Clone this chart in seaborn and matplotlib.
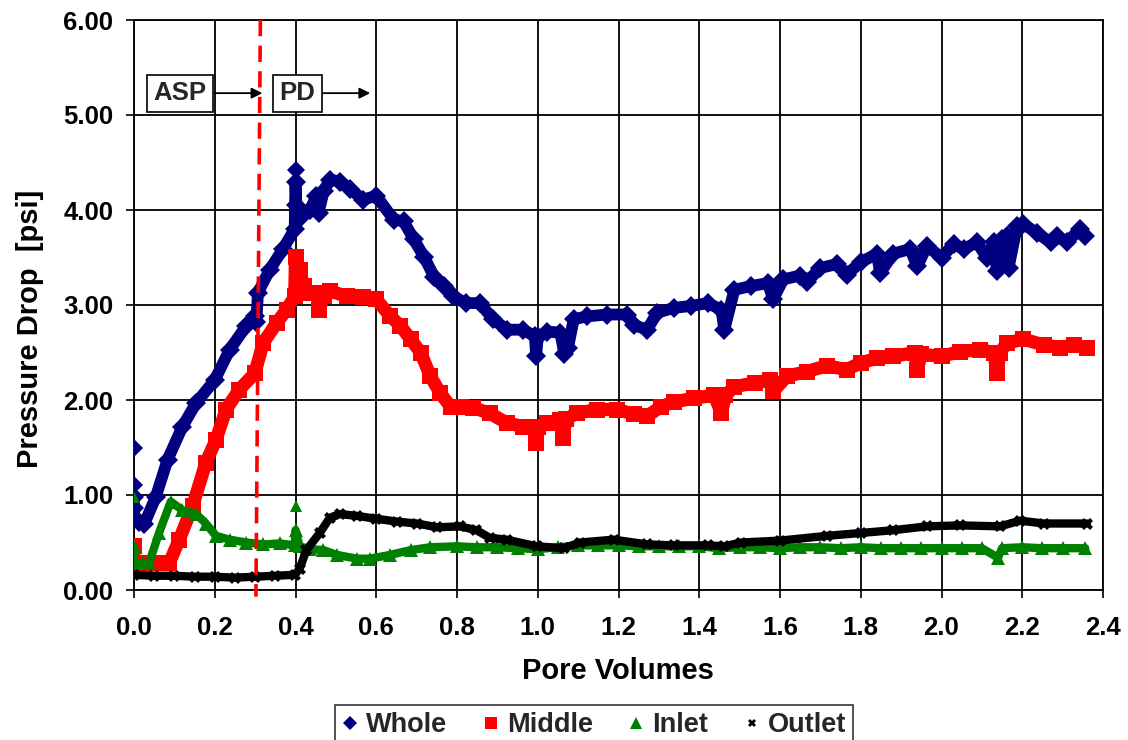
import matplotlib
matplotlib.use("Agg")
import matplotlib.pyplot as plt
from matplotlib.lines import Line2D
import pandas as pd
import seaborn as sns

# Pressure drop [psi] versus injected pore volumes for the four taps
whole = [
    (0.000, 0.98), (0.000, 0.86), (0.000, 0.76), (0.012, 0.72), (0.025, 0.69),
    (0.054, 0.98), (0.083, 1.37), (0.120, 1.72), (0.154, 1.97), (0.200, 2.21),
    (0.237, 2.53), (0.278, 2.78), (0.300, 2.88), (0.303, 2.82), (0.307, 3.13),
    (0.336, 3.37), (0.369, 3.59), (0.398, 3.80), (0.400, 4.30), (0.402, 4.05),
    (0.410, 3.92), (0.436, 4.00), (0.452, 4.15), (0.457, 3.97), (0.470, 4.20),
    (0.485, 4.32), (0.510, 4.30), (0.535, 4.22), (0.568, 4.11), (0.600, 4.15),
    (0.643, 3.90), (0.668, 3.88), (0.693, 3.69), (0.718, 3.51), (0.743, 3.30),
    (0.768, 3.20), (0.790, 3.09), (0.823, 3.02), (0.856, 3.02), (0.890, 2.85),
    (0.923, 2.74), (0.964, 2.74), (0.993, 2.67), (0.996, 2.46), (1.000, 2.66),
    (1.022, 2.72), (1.056, 2.71), (1.066, 2.48), (1.075, 2.55), (1.089, 2.85),
    (1.122, 2.88), (1.172, 2.90), (1.222, 2.90), (1.238, 2.79), (1.271, 2.74),
    (1.296, 2.92), (1.338, 2.97), (1.379, 2.99), (1.421, 3.02), (1.455, 2.95),
    (1.462, 2.74), (1.487, 3.16), (1.529, 3.20), (1.570, 3.23), (1.583, 3.06),
    (1.608, 3.27), (1.650, 3.31), (1.666, 3.24), (1.700, 3.39), (1.740, 3.43),
    (1.765, 3.32), (1.800, 3.45), (1.840, 3.54), (1.848, 3.34), (1.881, 3.54),
    (1.922, 3.59), (1.940, 3.41), (1.964, 3.62), (2.000, 3.50), (2.030, 3.64),
    (2.055, 3.59), (2.088, 3.66), (2.112, 3.50), (2.130, 3.66), (2.137, 3.36),
    (2.150, 3.70), (2.162, 3.73), (2.166, 3.39), (2.187, 3.83), (2.203, 3.85),
    (2.236, 3.76), (2.270, 3.66), (2.286, 3.73), (2.310, 3.66), (2.344, 3.80),
    (2.356, 3.73),
]
whole_isolated = [(0.000, 1.50), (0.000, 1.11), (0.400, 4.42)]

middle = [
    (0.000, 0.46), (0.000, 0.28), (0.012, 0.28), (0.050, 0.28), (0.087, 0.28),
    (0.112, 0.53), (0.145, 0.88), (0.178, 1.34), (0.203, 1.58), (0.228, 1.90),
    (0.261, 2.11), (0.299, 2.28), (0.320, 2.60), (0.353, 2.81), (0.378, 2.95),
    (0.398, 3.09), (0.400, 3.51), (0.410, 3.37), (0.420, 3.20), (0.436, 3.13),
    (0.452, 3.13), (0.458, 2.95), (0.470, 3.10), (0.485, 3.15), (0.527, 3.09),
    (0.568, 3.08), (0.600, 3.06), (0.635, 2.88), (0.660, 2.78), (0.685, 2.64),
    (0.710, 2.50), (0.734, 2.25), (0.759, 2.07), (0.784, 1.93), (0.810, 1.93),
    (0.840, 1.92), (0.881, 1.86), (0.923, 1.76), (0.964, 1.72), (0.990, 1.72),
    (0.995, 1.55), (1.000, 1.72), (1.022, 1.76), (1.056, 1.79), (1.062, 1.60),
    (1.070, 1.80), (1.097, 1.86), (1.147, 1.90), (1.197, 1.90), (1.238, 1.85),
    (1.271, 1.83), (1.305, 1.93), (1.338, 1.98), (1.388, 2.02), (1.437, 2.05),
    (1.455, 1.86), (1.465, 2.05), (1.487, 2.14), (1.537, 2.18), (1.574, 2.21),
    (1.583, 2.09), (1.617, 2.25), (1.666, 2.30), (1.716, 2.36), (1.765, 2.32),
    (1.800, 2.39), (1.840, 2.44), (1.881, 2.46), (1.935, 2.50), (1.940, 2.32),
    (1.950, 2.48), (2.000, 2.46), (2.046, 2.51), (2.096, 2.53), (2.130, 2.50),
    (2.137, 2.28), (2.145, 2.50), (2.162, 2.60), (2.203, 2.64), (2.253, 2.58),
    (2.294, 2.55), (2.327, 2.58), (2.360, 2.55),
]

inlet = [
    (0.000, 0.46), (0.000, 0.28), (0.020, 0.28), (0.037, 0.28), (0.062, 0.60),
    (0.091, 0.93), (0.120, 0.84), (0.154, 0.80), (0.178, 0.70), (0.203, 0.57),
    (0.237, 0.53), (0.278, 0.50), (0.320, 0.48), (0.361, 0.49), (0.398, 0.47),
    (0.400, 0.63), (0.410, 0.46), (0.436, 0.43), (0.469, 0.42), (0.502, 0.37),
    (0.552, 0.33), (0.585, 0.33), (0.635, 0.37), (0.685, 0.42), (0.734, 0.45),
    (0.800, 0.46), (0.850, 0.45), (0.900, 0.45), (0.950, 0.44), (1.000, 0.43),
    (1.050, 0.45), (1.100, 0.47), (1.150, 0.47), (1.200, 0.47), (1.250, 0.46),
    (1.300, 0.46), (1.350, 0.46), (1.400, 0.46), (1.450, 0.44), (1.500, 0.45),
    (1.550, 0.45), (1.600, 0.44), (1.650, 0.45), (1.700, 0.45), (1.750, 0.44),
    (1.800, 0.45), (1.850, 0.44), (1.900, 0.44), (1.950, 0.44), (2.000, 0.44),
    (2.050, 0.44), (2.100, 0.44), (2.140, 0.34), (2.150, 0.44), (2.200, 0.45),
    (2.250, 0.44), (2.300, 0.44), (2.356, 0.44),
]
inlet_isolated = [(0.000, 0.98), (0.400, 0.88)]

outlet = [
    (0.000, 0.16), (0.050, 0.15), (0.100, 0.15), (0.150, 0.14), (0.200, 0.14),
    (0.250, 0.13), (0.300, 0.14), (0.350, 0.15), (0.398, 0.16), (0.410, 0.22),
    (0.427, 0.42), (0.460, 0.60), (0.485, 0.76), (0.510, 0.80), (0.552, 0.78),
    (0.600, 0.75), (0.651, 0.72), (0.701, 0.70), (0.751, 0.66), (0.807, 0.67),
    (0.848, 0.63), (0.881, 0.55), (0.923, 0.53), (0.997, 0.46), (1.064, 0.44),
    (1.105, 0.50), (1.188, 0.53), (1.271, 0.48), (1.338, 0.47), (1.421, 0.47),
    (1.462, 0.46), (1.504, 0.50), (1.600, 0.52), (1.716, 0.57), (1.800, 0.60),
    (1.881, 0.63), (1.964, 0.67), (2.046, 0.68), (2.145, 0.67), (2.195, 0.73),
    (2.253, 0.70), (2.360, 0.70),
]

series_names = ["Whole", "Middle", "Inlet", "Outlet"]
series_colors = ["#000080", "#FF0000", "#008000", "#000000"]
x_ticks = [0.0, 0.2, 0.4, 0.6, 0.8, 1.0, 1.2, 1.4, 1.6, 1.8, 2.0, 2.2, 2.4]
y_ticks = [0.0, 1.0, 2.0, 3.0, 4.0, 5.0, 6.0]

sns.set_theme(style="white")
plt.rcParams["font.family"] = ["Liberation Sans", "DejaVu Sans"]
plt.rcParams["font.weight"] = "bold"

fig = plt.figure(figsize=(11.28, 7.4), dpi=100)
W, H = 1128, 740
ax = fig.add_axes([134 / W, 1 - 590 / H, (1103 - 134) / W, 570 / H])

styles = {
    "Whole": dict(marker="D", markersize=10, linewidth=8.5),
    "Middle": dict(marker="s", markersize=11, linewidth=9.5),
    "Inlet": dict(marker="^", markersize=10, linewidth=6.0),
    "Outlet": dict(marker="X", markersize=8, linewidth=6.0),
}
traces = {"Whole": whole, "Middle": middle, "Inlet": inlet, "Outlet": outlet}
isolated = {"Whole": whole_isolated, "Inlet": inlet_isolated}

for z, (name, color) in enumerate(zip(series_names, series_colors)):
    df = pd.DataFrame(traces[name], columns=["pv", "dp"])
    st = styles[name]
    sns.lineplot(data=df, x="pv", y="dp", sort=False, estimator=None, ax=ax,
                 color=color, linewidth=st["linewidth"], marker=st["marker"],
                 markersize=st["markersize"], markeredgewidth=0,
                 solid_joinstyle="round", solid_capstyle="round",
                 legend=False, zorder=3 + z)
    if name in isolated:
        dfi = pd.DataFrame(isolated[name], columns=["pv", "dp"])
        ax.plot(dfi["pv"], dfi["dp"], linestyle="none", marker=st["marker"],
                markersize=st["markersize"] - 1, color=color, markeredgewidth=0,
                zorder=3 + z)

# boundary between the ASP slug and the polymer drive
ax.plot([0.313, 0.302], [6.0, -0.07], color="#FF0000", linewidth=2.6,
        dashes=(4.5, 2.6), zorder=8, clip_on=False)

ax.set_xlim(0, 2.4)
ax.set_ylim(0, 6)
ax.set_xticks(x_ticks)
ax.set_yticks(y_ticks)
ax.set_xticklabels([f"{v:.1f}" for v in x_ticks])
ax.set_yticklabels([f"{v:.2f}" for v in y_ticks])
ax.grid(True, color="black", linewidth=1.3, zorder=0)
ax.set_axisbelow(True)
for sp in ax.spines.values():
    sp.set_color("black")
    sp.set_linewidth(1.3)
ax.tick_params(axis="both", which="major", direction="out", bottom=True, left=True,
               length=6, width=1.2, color="black", labelsize=18.5, labelcolor="black")
ax.tick_params(axis="x", pad=13)
ax.tick_params(axis="y", pad=9)
for lab in ax.get_xticklabels() + ax.get_yticklabels():
    lab.set_fontweight("bold")
ax.set_xlabel("")
ax.set_ylabel("")

fig.text(618 / W, 1 - 671 / H, "Pore Volumes", ha="center", va="center",
         fontsize=21, fontweight="bold", color="black")
fig.text(30 / W, 1 - 329 / H, "Pressure Drop  [psi]", ha="center", va="center",
         rotation=90, fontsize=21, fontweight="bold", color="black")

# phase annotations
box = dict(boxstyle="square,pad=0.25", facecolor="white", edgecolor="black", linewidth=1.2)
ax.text(0.114, 5.23, "ASP", ha="center", va="center", fontsize=18.5,
        fontweight="bold", bbox=box, zorder=9)
ax.text(0.405, 5.23, "PD", ha="center", va="center", fontsize=18.5,
        fontweight="bold", bbox=box, zorder=9)
arrow = dict(arrowstyle="-|>", color="black", linewidth=1.3, mutation_scale=16,
             shrinkA=0, shrinkB=0)
ax.annotate("", xy=(0.318, 5.23), xytext=(0.200, 5.23), arrowprops=arrow, zorder=9)
ax.annotate("", xy=(0.585, 5.23), xytext=(0.468, 5.23), arrowprops=arrow, zorder=9)

legend_marker_sizes = {"Whole": 7, "Middle": 8, "Inlet": 8, "Outlet": 6}
handles = [
    Line2D([], [], linestyle="none", marker=styles[n]["marker"], color=c,
           markersize=legend_marker_sizes[n], markeredgewidth=0)
    for n, c in zip(series_names, series_colors)
]
leg = fig.legend(handles, series_names, loc="center",
                 bbox_to_anchor=(594 / W, 1 - 725 / H), ncol=4, frameon=True,
                 fancybox=False, edgecolor="black",
                 handlelength=0.6, handletextpad=0.3, columnspacing=1.3,
                 borderpad=0.25, borderaxespad=0,
                 prop=dict(weight="bold", size=19.5))
leg.get_frame().set_linewidth(1.2)

fig.savefig("out.png", dpi=100, facecolor="white")
